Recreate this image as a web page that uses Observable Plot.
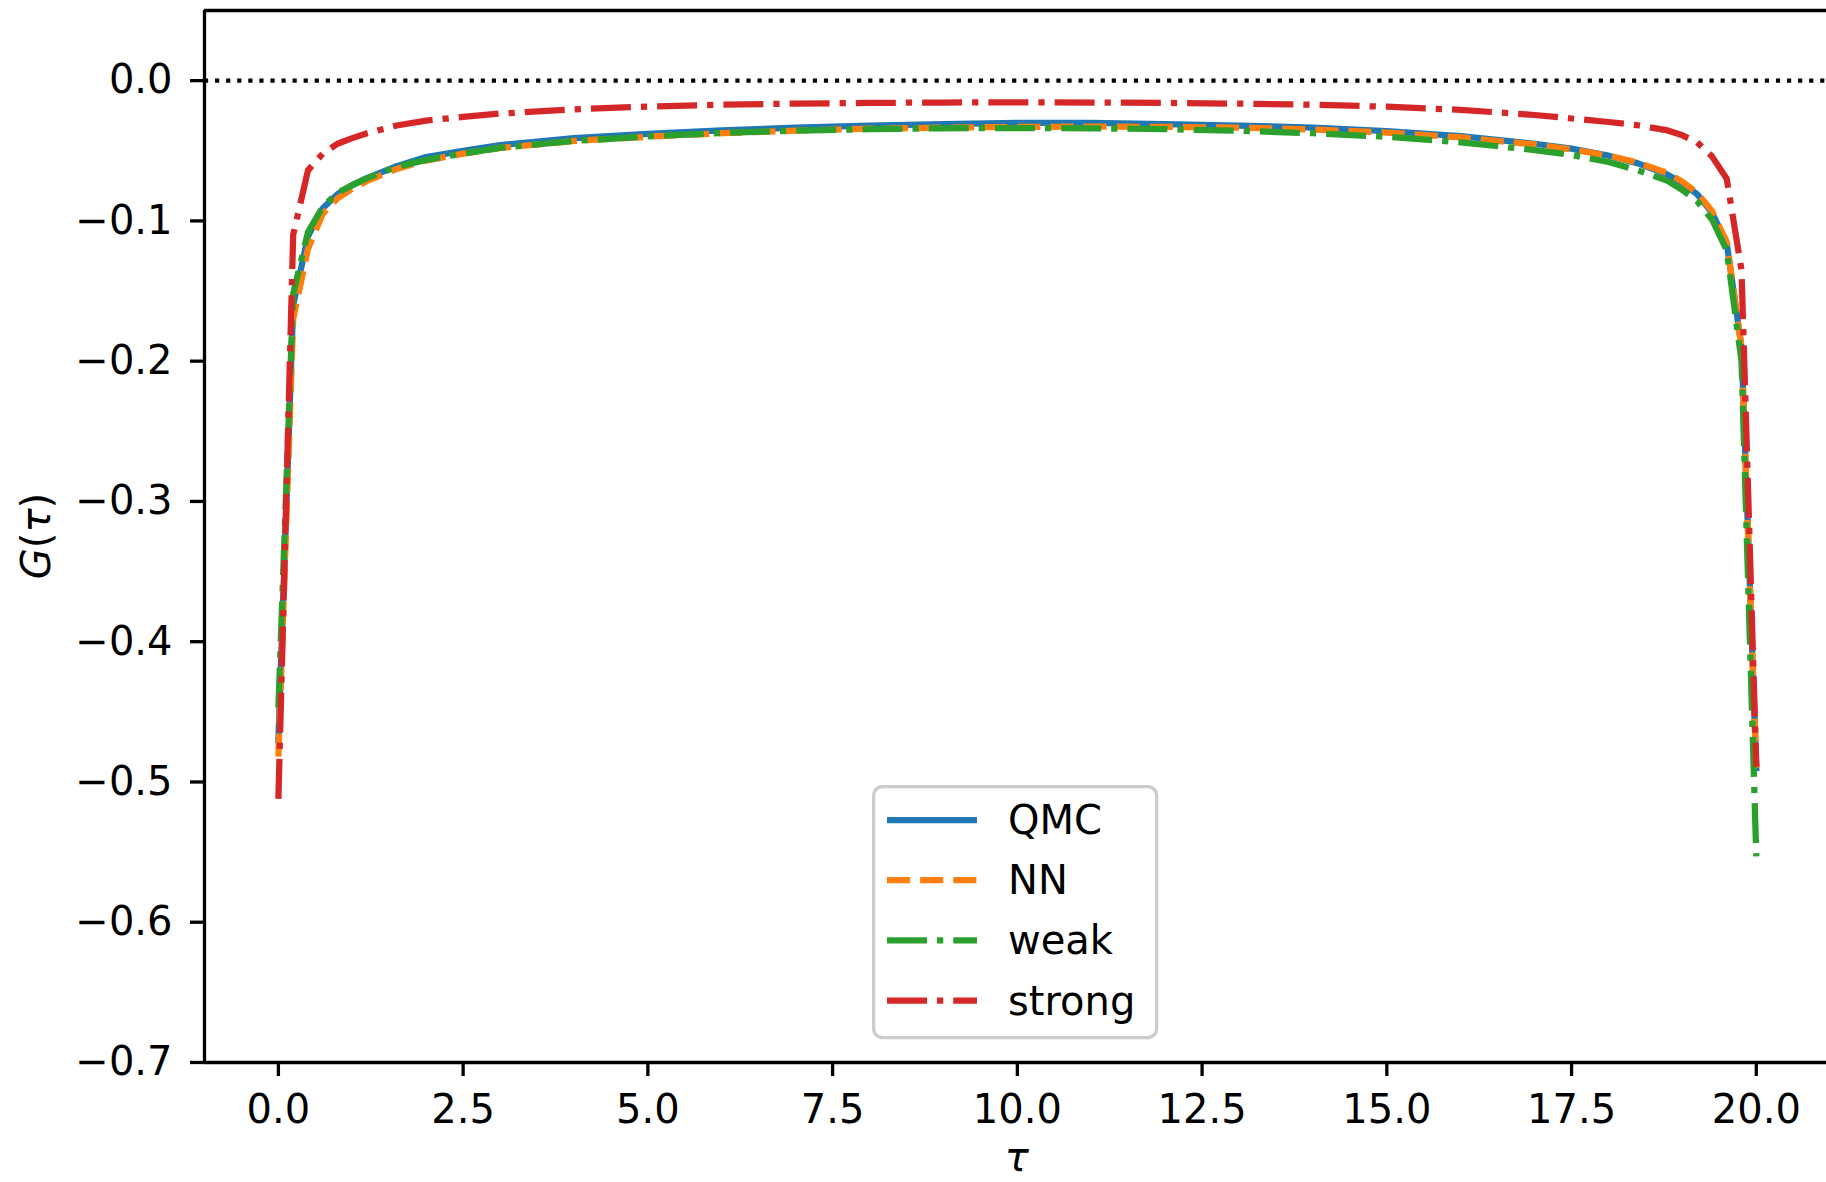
<!DOCTYPE html>
<html>
<head>
<meta charset="utf-8">
<script src="https://cdn.jsdelivr.net/npm/d3@7"></script>
<script src="https://cdn.jsdelivr.net/npm/@observablehq/plot@0.6"></script>
<style>
  html, body { margin: 0; padding: 0; background: #fff; }
  #wrap { position: relative; width: 1826px; height: 1182px; overflow: hidden; font-family: 'DejaVu Sans', sans-serif; }
  #legend { position: absolute; left: 872px; top: 785px; }
</style>
</head>
<body>
<div id="wrap"></div>
<script>
// ---- data ----
const tau = [0, 0.2, 0.4, 0.6, 0.8, 1.0, 1.2, 1.6, 2.0, 2.5, 3.0, 4.0, 5.0, 6.0, 7.0, 8.0, 9.0, 10.0,
             11.0, 12.0, 13.0, 14.0, 15.0, 16.0, 17.0, 17.5, 18.0, 18.4, 18.8, 19.0, 19.2, 19.4, 19.6, 19.8, 20.0];
const qmc = [-0.470, -0.160, -0.111, -0.091, -0.081, -0.0745, -0.0695, -0.061, -0.0545, -0.050, -0.046, -0.041,
             -0.038, -0.0355, -0.0335, -0.032, -0.031, -0.0302, -0.0302, -0.031, -0.032, -0.0335, -0.036, -0.0395,
             -0.045, -0.0485, -0.0535, -0.059, -0.067, -0.073, -0.081, -0.094, -0.116, -0.190, -0.490];
const nn = [-0.482, -0.170, -0.120, -0.095, -0.084, -0.077, -0.0715, -0.063, -0.057, -0.052, -0.048, -0.043,
            -0.040, -0.0375, -0.0357, -0.0343, -0.0335, -0.033, -0.0328, -0.033, -0.0335, -0.0348, -0.037, -0.0405,
            -0.0455, -0.049, -0.0535, -0.0585, -0.066, -0.072, -0.080, -0.093, -0.115, -0.190, -0.490];
const weak = [-0.447, -0.152, -0.108, -0.090, -0.080, -0.0745, -0.0695, -0.0615, -0.0565, -0.052, -0.048, -0.043,
              -0.0398, -0.0373, -0.0357, -0.0346, -0.034, -0.0338, -0.034, -0.0346, -0.0357, -0.0375, -0.040, -0.044,
              -0.0495, -0.053, -0.058, -0.064, -0.0715, -0.078, -0.086, -0.099, -0.121, -0.200, -0.553];
const strong = [-0.512, -0.110, -0.064, -0.052, -0.045, -0.041, -0.0375, -0.032, -0.0285, -0.0258, -0.0235, -0.0205,
                -0.0185, -0.0172, -0.0164, -0.0159, -0.0156, -0.0155, -0.0156, -0.0159, -0.0164, -0.0172, -0.0186, -0.0208,
                -0.0245, -0.027, -0.0295, -0.0318, -0.0355, -0.039, -0.044, -0.054, -0.070, -0.135, -0.489];

const seriesNames = ["QMC", "NN", "weak", "strong"];
const seriesValues = [qmc, nn, weak, strong];
const xTicks = [0, 2.5, 5, 7.5, 10, 12.5, 15, 17.5, 20];
const yTicks = [0, -0.1, -0.2, -0.3, -0.4, -0.5, -0.6, -0.7];

// ---- styles ----
const LW = 6.25;
const seriesColors = ["#1f77b4", "#ff7f0e", "#2ca02c", "#d62728"];
const seriesDash = [null, `${3.7*LW} ${1.6*LW}`, `${6.4*LW} ${1.6*LW} ${1*LW} ${1.6*LW}`, `${6.4*LW} ${1.6*LW} ${1*LW} ${1.6*LW}`];
const seriesCap = ["square", "butt", "butt", "butt"];

const fmt = d => (d < 0 ? "\u2212" : "") + Math.abs(d).toFixed(1);

const lineMarks = seriesNames.map((name, k) => {
  const rows = tau.map((t, i) => ({tau: t, g: seriesValues[k][i]}));
  const opts = {x: "tau", y: "g", stroke: seriesColors[k], strokeWidth: LW,
                strokeLinejoin: "round", strokeLinecap: seriesCap[k]};
  if (seriesDash[k]) opts.strokeDasharray = seriesDash[k];
  return Plot.line(rows, opts);
});

const plot = Plot.plot({
  width: 1826, height: 1182,
  marginLeft: 204, marginRight: 0, marginTop: 10, marginBottom: 120,
  style: {fontFamily: "'DejaVu Sans', sans-serif", fontSize: "40px", background: "white", color: "black"},
  x: {domain: [-1, 20.95], axis: null},
  y: {domain: [-0.7, 0.05], axis: null},
  marks: [
    Plot.ruleY([0], {stroke: "black", strokeWidth: 4.17, strokeDasharray: "4.17 6.9", strokeLinecap: "butt"}),
    ...lineMarks,
    Plot.axisX(xTicks, {tickSize: 14, tickPadding: 18, strokeWidth: 3.3, tickFormat: fmt, fontSize: 40, label: null}),
    Plot.axisY(yTicks, {tickSize: 14, tickPadding: 18, strokeWidth: 3.3, tickFormat: fmt, fontSize: 40, label: null}),
    Plot.ruleX([-1], {stroke: "black", strokeWidth: 3.3}),
    Plot.ruleY([-0.7, 0.05], {stroke: "black", strokeWidth: 3.3})
  ]
});

document.getElementById("wrap").appendChild(plot);

// axis labels (mathtext style)
const xs = plot.scale("x"), ys = plot.scale("y");
const svg = d3.select(plot);
const yMid = (ys.range[0] + ys.range[1]) / 2;
const yl = svg.append("text")
  .attr("transform", `translate(50,${yMid}) rotate(-90)`)
  .attr("text-anchor", "middle")
  .attr("font-size", 40)
  .attr("fill", "black");
yl.append("tspan").attr("font-style", "italic").text("G");
yl.append("tspan").text("(");
yl.append("tspan").attr("font-style", "italic").text("\u03C4");
yl.append("tspan").text(")");

svg.append("text")
  .attr("x", xs.apply(10))
  .attr("y", ys.range[0] + 109)
  .attr("text-anchor", "middle")
  .attr("font-size", 40)
  .attr("font-style", "italic")
  .attr("fill", "black")
  .text("\u03C4");

// legend
const lg = d3.select("#wrap").append("svg")
  .attr("id", "legend")
  .attr("width", 288).attr("height", 256);
lg.append("rect")
  .attr("x", 1.65).attr("y", 1.65).attr("width", 283).attr("height", 251)
  .attr("rx", 9).attr("ry", 9)
  .attr("fill", "white").attr("fill-opacity", 0.8)
  .attr("stroke", "#cccccc").attr("stroke-width", 3.3);
seriesNames.forEach((name, k) => {
  const yy = 35 + k * 60.2;
  const ln = lg.append("line")
    .attr("x1", 15).attr("x2", 105).attr("y1", yy).attr("y2", yy)
    .attr("stroke", seriesColors[k]).attr("stroke-width", LW)
    .attr("stroke-linecap", "butt");
  if (seriesDash[k]) ln.attr("stroke-dasharray", seriesDash[k]);
  lg.append("text")
    .attr("x", 136).attr("y", yy + 14)
    .attr("font-size", 40)
    .attr("font-family", "'DejaVu Sans', sans-serif")
    .attr("fill", "black")
    .text(name);
});
</script>
</body>
</html>
